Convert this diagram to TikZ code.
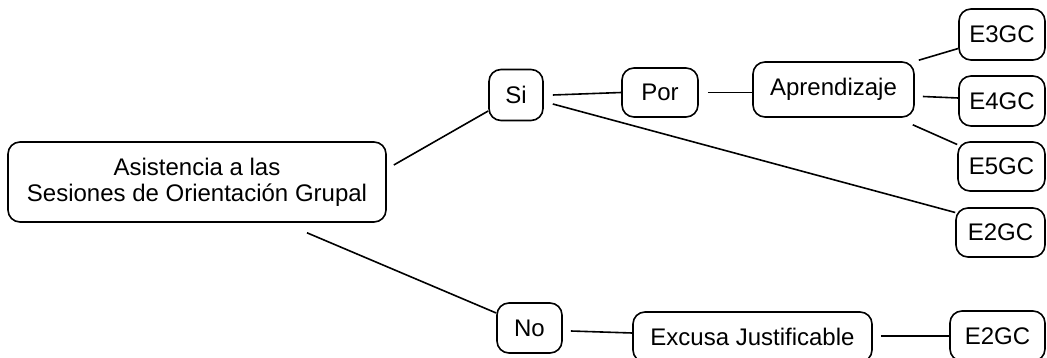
\documentclass[tikz,border=0pt]{standalone}
\usepackage{fontspec}
\setmainfont{Liberation Sans}
\usetikzlibrary{calc}
\begin{document}
\begin{tikzpicture}[x=1pt,y=-1pt,
  box/.style={draw, rounded corners=12pt, line width=1.6pt, inner sep=0pt, align=center, font=\fontsize{24}{26}\selectfont},
  conn/.style={line width=1.6pt}]
\useasboundingbox (0,0) rectangle (1047,358);
\clip (0,0) rectangle (1047,358);
\node[box, minimum width=378pt, minimum height=80pt] (main) at (197,182) {Asistencia a las\\Sesiones de Orientación Grupal};
\node[box, minimum width=54pt, minimum height=51pt] (si) at (516,95) {Si};
\node[box, minimum width=76pt, minimum height=49pt] (por) at (660,92.5) {Por};
\node[box, minimum width=161pt, minimum height=55pt] (apr) at (833.5,89.5) {Aprendizaje};
\node[box, minimum width=86pt, minimum height=51pt] (e3) at (1002,34.5) {E3GC};
\node[box, minimum width=86pt, minimum height=50pt] (e4) at (1002,101) {E4GC};
\node[box, minimum width=87pt, minimum height=49pt] (e5) at (1001.5,166.5) {E5GC};
\node[box, minimum width=89pt, minimum height=49pt] (e2u) at (1000.5,232.5) {E2GC};
\node[box, minimum width=65pt, minimum height=50pt] (no) at (529.5,328) {No};
\node[box, minimum width=239pt, minimum height=50pt] (exc) at (752.5,337) {Excusa Justificable};
\node[box, minimum width=95pt, minimum height=50pt] (e2l) at (997.5,336) {E2GC};
\draw[conn] ($(main.east)+(7,-17)$) -- ($(si.west)+(0,16)$);
\draw[conn] ($(main.south)+(110,10)$) -- ($(no.west)+(0,-15)$);
\draw[conn] ($(si.east)+(9,0)$) -- (por.west);
\draw[conn] ($(por.east)+(9,0)$) -- ($(apr.west)+(0,3)$);
\draw[conn] ($(si.east)+(9,9)$) -- ($(e2u.west)+(0,-20)$);
\draw[conn] ($(apr.north east)+(4,-1)$) -- ($(e3.west)+(0,14)$);
\draw[conn] ($(apr.east)+(8,7)$) -- ($(e4.west)+(0,-3)$);
\draw[conn] ($(apr.south east)+(-2,7)$) -- ($(e5.west)+(0,-22)$);
\draw[conn] ($(no.east)+(8,3)$) -- ($(exc.west)+(0,-4)$);
\draw[conn] ($(exc.east)+(8,-1)$) -- (e2l.west);
\end{tikzpicture}
\end{document}
